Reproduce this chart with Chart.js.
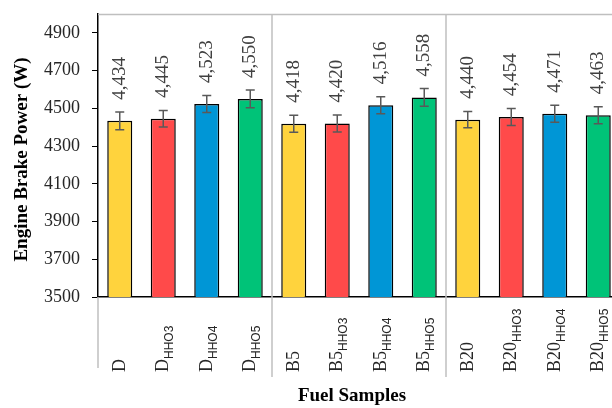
<!DOCTYPE html>
<html>
<head>
<meta charset="utf-8">
<script src="https://cdn.jsdelivr.net/npm/chart.js@4.4.1/dist/chart.umd.min.js"></script>
<style>
  html, body { margin: 0; padding: 0; background: #fff; overflow: hidden; }
  #wrap { width: 612px; height: 408px; overflow: hidden; }
</style>
</head>
<body>
<div id="wrap"><canvas id="canvas" width="620" height="408"></canvas></div>
<script>
// fuel samples: base name + subscript
var baseLabels = ["D", "D", "D", "D", "B5", "B5", "B5", "B5", "B20", "B20", "B20", "B20"];
var subLabels = ["", "HHO3", "HHO4", "HHO5", "", "HHO3", "HHO4", "HHO5", "", "HHO3", "HHO4", "HHO5"];
var brakePower = [4434, 4445, 4523, 4550, 4418, 4420, 4516, 4558, 4440, 4454, 4471, 4463];
var powerError = [47, 44, 45, 47, 45, 45, 45, 47, 43, 45, 45, 45];
var yTicks = [3500, 3700, 3900, 4100, 4300, 4500, 4700, 4900];

var barColors = ["#ffd33d", "#ff4a4a", "#0096d6", "#00c378"];
var serif = "'Liberation Serif', 'Times New Roman', serif";

var labels = [];
for (var i = 0; i < baseLabels.length; i++) {
    labels.push(baseLabels[i] + (subLabels[i] ? " " + subLabels[i] : ""));
}

var extras = {
    id: "extras",
    afterDraw: function (chart) {
        var ctx = chart.ctx;
        var area = chart.chartArea;
        var xs = chart.scales.x;
        var ys = chart.scales.y;
        var meta = chart.getDatasetMeta(0);
        var catW = (area.right - area.left) / labels.length;

        ctx.save();
        // plot border top
        ctx.strokeStyle = "#bfbfbf";
        ctx.lineWidth = 1.5;
        ctx.beginPath();
        ctx.moveTo(area.left, area.top + 0.5);
        ctx.lineTo(area.right, area.top + 0.5);
        ctx.stroke();

        // group separators
        for (var i = 0; i < baseLabels.length; i++) {
            if (i === 0 || baseLabels[i] !== baseLabels[i - 1]) {
                var gx = xs.getPixelForValue(i) - catW / 2;
                ctx.beginPath();
                if (i === 0) {
                    ctx.moveTo(gx, area.bottom);
                    ctx.lineTo(gx, area.bottom + 71);
                } else {
                    ctx.moveTo(gx, area.top);
                    ctx.lineTo(gx, area.bottom + 80);
                }
                ctx.stroke();
            }
        }

        // error bars
        ctx.strokeStyle = "#595959";
        ctx.lineWidth = 1.5;
        meta.data.forEach(function (bar, i) {
            var hi = ys.getPixelForValue(brakePower[i] + powerError[i]);
            var lo = ys.getPixelForValue(brakePower[i] - powerError[i]);
            ctx.beginPath();
            ctx.moveTo(bar.x, hi);
            ctx.lineTo(bar.x, lo);
            ctx.moveTo(bar.x - 4.5, hi);
            ctx.lineTo(bar.x + 4.5, hi);
            ctx.moveTo(bar.x - 4.5, lo);
            ctx.lineTo(bar.x + 4.5, lo);
            ctx.stroke();
        });

        // value labels
        ctx.fillStyle = "#404040";
        ctx.font = "19px " + serif;
        ctx.textAlign = "left";
        ctx.textBaseline = "middle";
        meta.data.forEach(function (bar, i) {
            ctx.save();
            ctx.translate(bar.x, ys.getPixelForValue(brakePower[i]) - 21);
            ctx.rotate(-Math.PI / 2);
            ctx.fillText(brakePower[i].toLocaleString("en-US"), 0, 0);
            ctx.restore();
        });

        // category labels with subscripts
        ctx.fillStyle = "#262626";
        ctx.textBaseline = "alphabetic";
        meta.data.forEach(function (bar, i) {
            ctx.save();
            ctx.translate(bar.x + 5, area.bottom + 75);
            ctx.rotate(-Math.PI / 2);
            ctx.font = "18px " + serif;
            ctx.fillText(baseLabels[i], 0, 0);
            var w = ctx.measureText(baseLabels[i]).width;
            if (subLabels[i]) {
                ctx.font = "12px 'Liberation Sans', Arial, sans-serif";
                ctx.fillText(subLabels[i], w, 5);
            }
            ctx.restore();
        });

        // axis titles
        ctx.fillStyle = "#000";
        ctx.font = "bold 19px " + serif;
        ctx.textAlign = "center";
        ctx.textBaseline = "middle";
        ctx.fillText("Fuel Samples", 352, 396);
        ctx.save();
        ctx.translate(22, (area.top + area.bottom) / 2 + 4);
        ctx.rotate(-Math.PI / 2);
        ctx.fillText("Engine Brake Power (W)", 0, 0);
        ctx.restore();
        ctx.restore();
    }
};

window.onload = function () {
    var ctx = document.getElementById("canvas").getContext("2d");
    window.myBar = new Chart(ctx, {
        type: "bar",
        data: {
            labels: labels,
            datasets: [{
                label: "Engine Brake Power (W)",
                data: brakePower,
                backgroundColor: brakePower.map(function (v, i) { return barColors[i % 4]; }),
                borderColor: "#000",
                borderWidth: 1.5,
                borderSkipped: false,
                categoryPercentage: 1,
                barPercentage: 0.575
            }]
        },
        options: {
            responsive: false,
            maintainAspectRatio: false,
            animation: false,
            layout: { padding: { top: 14, left: 0, right: 0, bottom: 0 } },
            plugins: {
                legend: { display: false },
                tooltip: { enabled: false }
            },
            scales: {
                x: {
                    grid: { display: false },
                    ticks: { display: false },
                    border: { display: true, color: "#000", width: 1.5 },
                    afterFit: function (scale) {
                        scale.height = 111;
                        scale.paddingLeft = 0;
                        scale.paddingRight = 0;
                    }
                },
                y: {
                    min: 3500,
                    max: 5000,
                    afterBuildTicks: function (scale) {
                        scale.ticks = yTicks.map(function (v) { return { value: v }; });
                    },
                    grid: { drawOnChartArea: false, drawTicks: true, tickLength: 6, color: "#000" },
                    border: { display: true, color: "#000", width: 1.5 },
                    ticks: {
                        padding: 12,
                        color: "#262626",
                        font: { family: serif, size: 18 },
                        callback: function (v) { return String(v); }
                    },
                    afterFit: function (scale) {
                        scale.width = 98;
                        scale.paddingTop = 0;
                        scale.paddingBottom = 0;
                    }
                }
            }
        },
        plugins: [extras]
    });
};
</script>
</body>
</html>
